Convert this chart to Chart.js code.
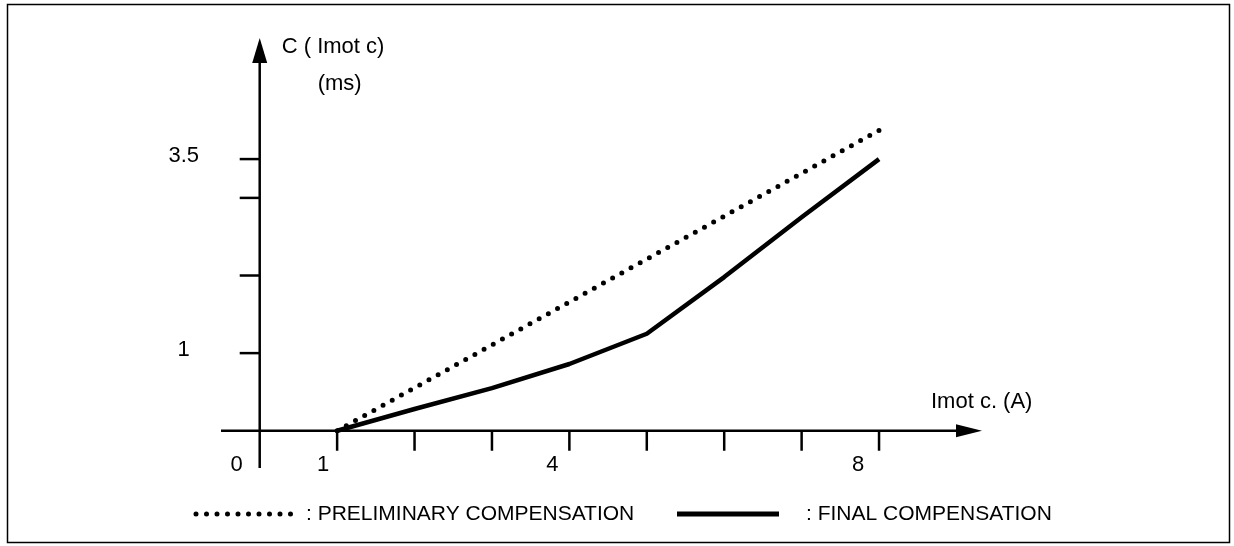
<!DOCTYPE html>
<html>
<head>
<meta charset="utf-8">
<script src="https://cdn.jsdelivr.net/npm/chart.js@4/dist/chart.umd.min.js"></script>
<style>
  html, body { margin: 0; padding: 0; background: #fff; }
  #wrap { width: 1234px; height: 546px; position: relative; }
</style>
</head>
<body>
<div id="wrap"><canvas id="fig"></canvas></div>
<script>
// values
const currentA = [1, 2, 3, 4, 5, 6, 7, 8];
const finalMs = [0, 0.28, 0.55, 0.86, 1.25, 1.98, 2.75, 3.5];
const prelimA = [1, 8];
const prelimMs = [0, 3.87];

const xTicks = [1, 2, 3, 4, 5, 6, 7, 8];
const xTickLabels = { 0: '0', 1: '1', 4: '4', 8: '8' };
const yTicks = [1, 2, 3, 3.5];
const yTickLabels = { 1: '1', 3.5: '3.5' };

const seriesNames = [': PRELIMINARY COMPENSATION', ': FINAL COMPENSATION'];

const FONT = 'Arial, "Liberation Sans", sans-serif';

function pts(xs, ys) {
  return xs.map((x, i) => ({ x: x, y: ys[i] }));
}

// axes, arrows, ticks, labels, frame, legend
const patentAxes = {
  id: 'patentAxes',
  beforeDatasetsDraw(chart) {
    const c = chart.ctx;
    const xs = chart.scales.x, ys = chart.scales.y;
    const ox = xs.getPixelForValue(0), oy = ys.getPixelForValue(0);
    const a = chart.chartArea;
    c.save();
    c.strokeStyle = '#000';
    c.fillStyle = '#000';

    // frame
    c.lineWidth = 1.5;
    c.strokeRect(7.5, 4.5, 1222, 538);

    c.lineWidth = 2.5;
    // x axis
    c.beginPath();
    c.moveTo(a.left, oy);
    c.lineTo(a.right - 20, oy);
    c.stroke();
    c.beginPath();
    c.moveTo(a.right, oy);
    c.lineTo(a.right - 26, oy - 6.5);
    c.lineTo(a.right - 26, oy + 6.5);
    c.closePath();
    c.fill();
    // y axis
    c.beginPath();
    c.moveTo(ox, a.bottom);
    c.lineTo(ox, a.top + 20);
    c.stroke();
    c.beginPath();
    c.moveTo(ox, a.top);
    c.lineTo(ox - 7.5, a.top + 25);
    c.lineTo(ox + 7.5, a.top + 25);
    c.closePath();
    c.fill();

    // ticks
    xTicks.forEach(v => {
      const px = xs.getPixelForValue(v);
      c.beginPath();
      c.moveTo(px, oy);
      c.lineTo(px, oy + 20);
      c.stroke();
    });
    yTicks.forEach(v => {
      const py = ys.getPixelForValue(v);
      c.beginPath();
      c.moveTo(ox, py);
      c.lineTo(ox - 20, py);
      c.stroke();
    });

    // tick labels
    c.font = '22px ' + FONT;
    c.textAlign = 'center';
    c.textBaseline = 'middle';
    Object.keys(xTickLabels).forEach(k => {
      const v = Number(k);
      const px = xs.getPixelForValue(v) - (v === 0 ? 23 : 13 + v);
      c.fillText(xTickLabels[k], px, oy + 34);
    });
    Object.keys(yTickLabels).forEach(k => {
      const py = ys.getPixelForValue(Number(k));
      c.fillText(yTickLabels[k], ox - 76, py - 3);
    });

    // axis titles
    c.font = '22px ' + FONT;
    c.textAlign = 'left';
    c.textBaseline = 'alphabetic';
    c.fillText('C ( Imot c)', ox + 22, a.top + 15);
    c.fillText('(ms)', ox + 58, a.top + 52);
    c.fillText('Imot c. (A)', a.right - 51, oy - 23);
    c.restore();
  },
  afterDraw(chart) {
    const c = chart.ctx;
    const ds = chart.data.datasets;
    const ly = 514;
    c.save();
    c.strokeStyle = '#000';
    c.fillStyle = '#000';
    // dotted sample
    c.lineWidth = ds[0].borderWidth;
    c.lineCap = 'round';
    c.setLineDash(ds[0].borderDash);
    c.beginPath();
    c.moveTo(196, ly);
    c.lineTo(292, ly);
    c.stroke();
    // solid sample
    c.setLineDash([]);
    c.lineCap = 'butt';
    c.lineWidth = 5;
    c.beginPath();
    c.moveTo(677, ly);
    c.lineTo(779, ly);
    c.stroke();
    c.font = '21px ' + FONT;
    c.textBaseline = 'middle';
    c.textAlign = 'left';
    c.fillText(seriesNames[0], 306, ly);
    c.fillText(seriesNames[1], 806, ly);
    c.restore();
  }
};

new Chart(document.getElementById('fig'), {
  type: 'line',
  data: {
    datasets: [{
      label: seriesNames[0],
      data: pts(prelimA, prelimMs),
      borderColor: '#000',
      borderWidth: 5,
      borderDash: [0, 10.5],
      borderCapStyle: 'round',
      pointRadius: 0,
      fill: false
    }, {
      label: seriesNames[1],
      data: pts(currentA, finalMs),
      borderColor: '#000',
      borderWidth: 4.5,
      borderJoinStyle: 'round',
      tension: 0,
      pointRadius: 0,
      fill: false
    }]
  },
  options: {
    responsive: true,
    maintainAspectRatio: false,
    animation: false,
    layout: { padding: { left: 221, right: 252, top: 38, bottom: 78 } },
    scales: {
      x: { type: 'linear', min: -0.5, max: 9.33, display: false },
      y: { type: 'linear', min: -0.48, max: 5.06, display: false }
    },
    plugins: {
      legend: { display: false },
      tooltip: { enabled: false }
    }
  },
  plugins: [patentAxes]
});
</script>
</body>
</html>
